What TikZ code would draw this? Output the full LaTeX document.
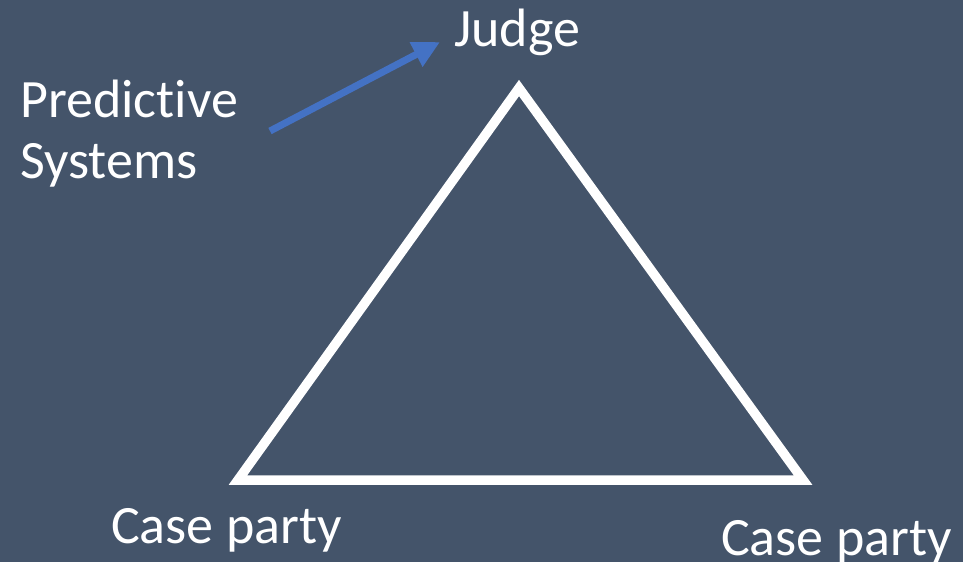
\documentclass[tikz,border=0pt]{standalone}
\usepackage{fontspec}
\setmainfont[Ligatures={NoCommon,NoContextual}]{Carlito}
\usetikzlibrary{arrows.meta}
\definecolor{bgslate}{HTML}{44546A}
\definecolor{arrowblue}{HTML}{4472C4}
\begin{document}
\begin{tikzpicture}[x=1pt,y=-1pt,
  lbl/.style={text=white,inner sep=0pt,font=\fontsize{54}{61}\selectfont,anchor=base west,align=left},
  tri/.style={draw=white,line width=9.5pt,line join=miter},
  pointer/.style={draw=arrowblue,line width=7pt,-{Triangle[length=27pt,width=26pt]}}]
\fill[bgslate] (0,0) rectangle (963,562);
\useasboundingbox (0,0) rectangle (963,562);
\coordinate (top) at (519,88);
\coordinate (bl) at (238,480);
\coordinate (br) at (803,480);
\draw[tri] (top) -- (bl) -- (br) -- cycle;
\node[lbl] (judge) at (454,46) {Judge};
\node[lbl] (pred) at (20,178) {Predictive\\Systems};
\node[lbl] (cpl) at (111,543) {Case party};
\node[lbl] (cpr) at (721,555) {Case party};
\coordinate (a1) at (270,131);
\coordinate (a2) at (440,42);
\draw[pointer] (a1) -- (a2);
\end{tikzpicture}
\end{document}
